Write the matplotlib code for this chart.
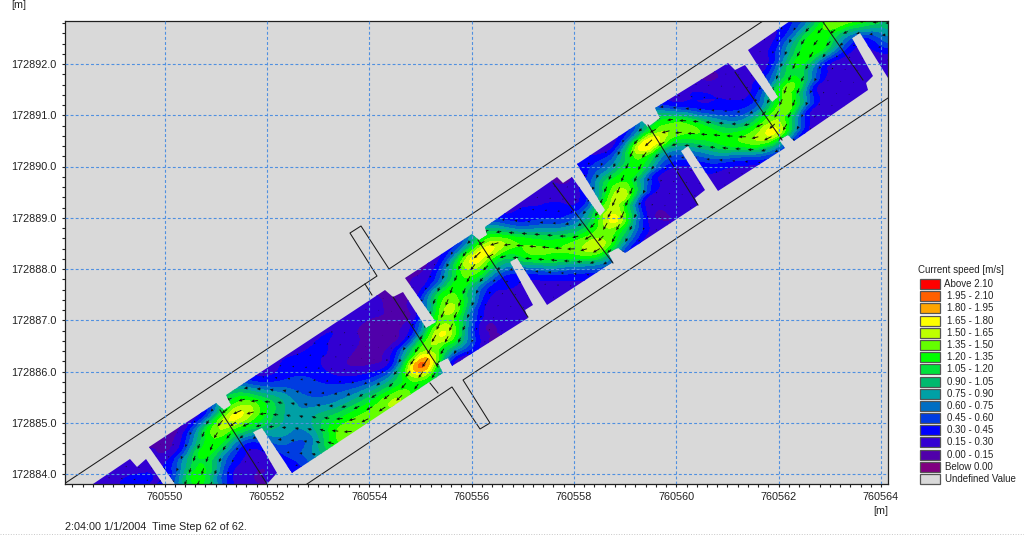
import numpy as np
import matplotlib
matplotlib.use("Agg")
import matplotlib.pyplot as plt
import matplotlib.tri as mtri
from matplotlib.path import Path
from matplotlib.patches import Rectangle
from matplotlib.ticker import MultipleLocator

plt.rcParams["font.family"] = ["Liberation Sans", "DejaVu Sans"]

# -----------------------------
# 1. LEGEND CLASSES
# -----------------------------
class_edges = [-1.0, 0.0, 0.15, 0.30, 0.45, 0.60, 0.75, 0.90, 1.05, 1.20,
               1.35, 1.50, 1.65, 1.80, 1.95, 2.10, 5.0]
class_colors = ["#800080", "#5000aa", "#3200d2", "#0000ff", "#003ce1", "#006ec3",
                "#00a0a5", "#00b96e", "#00e13c", "#00ff00", "#64ff00", "#beff00",
                "#ffff00", "#ffa500", "#ff5f00", "#ff0000"]
class_labels = ["Above 2.10", "1.95 - 2.10", "1.80 - 1.95", "1.65 - 1.80", "1.50 - 1.65",
                "1.35 - 1.50", "1.20 - 1.35", "1.05 - 1.20", "0.90 - 1.05", "0.75 - 0.90",
                "0.60 - 0.75", "0.45 - 0.60", "0.30 - 0.45", "0.15 - 0.30", "0.00 - 0.15",
                "Below 0.00", "Undefined Value"]
undefined_color = "#d9d9d9"

# -----------------------------
# 2. TICKS
# -----------------------------
x_ticks = [760550, 760552, 760554, 760556, 760558, 760560, 760562, 760564]
x_labels = ["760550", "760552", "760554", "760556", "760558", "760560", "760562", "760564"]
y_ticks = [172884, 172885, 172886, 172887, 172888, 172889, 172890, 172891, 172892]
y_labels = ["172884.0", "172885.0", "172886.0", "172887.0", "172888.0",
            "172889.0", "172890.0", "172891.0", "172892.0"]
x_base = 760550
y_base = 172884

# -----------------------------
# 3. GEOMETRY (metres from x_base / y_base)
# -----------------------------
flow_x = [-1.397, -0.674, -0.537, -0.361, -0.029, 0.205, -0.303, 1.006, 1.163, 1.299, 1.202,
          4.015, 4.308, 4.465, 4.660, 5.109, 5.305, 4.699, 6.008, 6.145, 6.301, 6.262,
          7.669, 7.786, 7.962, 8.509, 8.607, 8.060, 9.330, 9.447, 9.681, 9.584,
          11.010, 11.147, 11.342, 11.870, 11.987, 11.401, 12.222, 14.137, 14.137,
          13.590, 13.433, 13.843, 13.707, 13.746, 12.300, 12.183, 12.007, 12.124,
          10.815, 10.229, 10.092, 10.561, 10.365, 10.424, 8.998, 8.861, 8.665, 8.763,
          7.474, 6.887, 6.751, 7.200, 7.044, 7.102, 5.618, 5.539, 5.344, 5.442,
          2.491, 1.905, 1.729, 2.198, 2.003]
flow_y = [-0.195, 0.293, 0.137, 0.293, -0.195, -0.195, 0.527, 1.385, 1.249, 1.346, 1.541,
          3.395, 3.590, 3.454, 3.551, 2.849, 2.966, 3.824, 4.683, 4.566, 4.663, 4.820,
          5.795, 5.678, 5.795, 5.034, 5.151, 6.049, 6.888, 6.771, 6.946, 7.141,
          8.020, 7.883, 7.980, 7.259, 7.356, 8.273, 8.839, 8.839, 7.727,
          8.605, 8.507, 7.766, 7.629, 7.493, 6.498, 6.615, 6.517, 6.361,
          5.522, 6.400, 6.302, 5.541, 5.385, 5.249, 4.312, 4.410, 4.312, 4.137,
          3.298, 4.215, 4.137, 3.298, 3.200, 3.044, 2.107, 2.263, 2.166, 1.971,
          0.020, 0.898, 0.820, 0.020, -0.195]

upper_wall_x = [-1.964, 4.152, 3.624, 3.839, 4.387, 11.694]
upper_wall_y = [-0.195, 3.863, 4.702, 4.839, 4.000, 8.839]
lower_wall_x = [2.784, 5.617, 6.165, 6.360, 5.833, 14.137]
lower_wall_y = [-0.195, 1.698, 0.878, 0.995, 1.834, 7.337]
cross_x0 = [1.084, 4.465, 6.125, 7.591, 9.447, 11.147, 12.867, 3.917, 5.187]
cross_y0 = [1.249, 3.454, 4.566, 5.678, 6.810, 7.844, 8.820, 3.707, 1.776]
cross_x1 = [2.003, 5.344, 7.102, 8.763, 10.424, 12.066, 13.648, 4.054, 5.344]
cross_y1 = [-0.195, 2.088, 3.063, 4.117, 5.249, 6.517, 7.688, 3.493, 1.580]

# channel frame: s runs along the channel, n across it (towards the lower wall)
origin_x, origin_y = 1.202, 1.541
along = (0.837, 0.547)
across = (0.547, -0.837)
s_stations = np.arange(47) * 0.4 - 3.2
n_stations = [-0.2, 0.1, 0.4, 0.7, 1.0, 1.3, 1.6, 1.9, 2.2]

# -----------------------------
# 4. CURRENT SPEED [m/s], one column per s station
# -----------------------------
pool_start = [
    [.20, .20, .25, .25, .25, .25, .25, .25, .25],
    [.20, .25, .30, .30, .30, .30, .30, .30, .30],
    [.18, .25, .33, .33, .40, .40, .40, .40, .40],
    [.15, .20, .25, .30, .40, .60, .80, .80, .80],
]
pool_a = [
    [.10, .10, .25, .60, 1.00, 1.30, 1.30, 1.00, .80],
    [.10, .15, .50, 1.10, 1.25, 1.00, .70, .50, .40],
    [.15, .35, 1.10, 1.30, .80, .40, .25, .20, .20],
    [.40, .60, 1.50, 1.20, .50, .25, .15, .15, .15],
    [.70, 1.10, 1.65, 1.30, .60, .30, .20, .20, .20],
]
pool_b = [
    [.50, .80, 1.30, 1.25, .95, .70, .50, .40, .40],
    [.20, .30, .70, .95, .85, .75, .60, .75, .80],
    [.20, .30, .45, .60, .70, .90, 1.05, 1.20, 1.20],
    [.20, .30, .35, .45, .55, .80, 1.20, 1.45, 1.40],
    [.20, .30, .30, .25, .40, .70, 1.15, 1.45, 1.40],
    [.20, .30, .25, .15, .20, .55, 1.10, 1.45, 1.40],
    [.20, .25, .15, .10, .10, .40, 1.05, 1.50, 1.40],
    [.15, .20, .12, .10, .20, .70, 1.45, 1.25, .90],
    [.15, .14, .12, .12, .35, 1.25, 1.95, 1.20, .80],
    [.12, .12, .15, .30, .90, 1.55, 1.20, .40, .30],
]
pool_c = [
    [.15, .15, .40, 1.05, 1.45, 1.50, 1.05, .35, .20],
    [.20, .25, .70, 1.30, 1.35, .80, .35, .20, .18],
    [.30, .55, 1.35, 1.30, .70, .30, .20, .18, .18],
    [.40, .80, 1.70, 1.25, .50, .25, .20, .18, .18],
    [.50, 1.00, 1.60, 1.15, .60, .30, .20, .18, .18],
]
pool_d = [
    [.30, .45, 1.00, 1.35, 1.20, .55, .25, .18, .15],
    [.20, .30, .45, 1.00, 1.35, 1.15, .50, .25, .20],
    [.18, .22, .35, .55, 1.10, 1.40, 1.00, .40, .30],
    [.15, .18, .25, .40, .85, 1.40, 1.50, .70, .40],
    [.15, .15, .30, .50, 1.20, 1.50, 1.30, .60, .30],
]
pool_e = [
    [.30, .40, .70, 1.15, 1.55, 1.50, .90, .35, .20],
    [.20, .30, .80, 1.30, 1.35, .50, .28, .20, .18],
    [.30, .50, 1.30, 1.25, .55, .25, .20, .16, .16],
    [.50, .80, 1.80, .95, .35, .22, .18, .18, .18],
    [.60, 1.10, 1.50, 1.00, .50, .25, .20, .18, .15],
]
pool_f = [
    [.30, .50, 1.25, 1.35, .95, .55, .30, .18, .15],
    [.20, .30, .45, 1.00, 1.25, 1.10, .45, .20, .20],
    [.18, .20, .30, .45, .85, 1.35, 1.05, .35, .20],
    [.15, .18, .22, .30, .65, 1.35, 1.55, .60, .30],
    [.15, .18, .22, .45, .90, 1.45, 1.40, .50, .30],
]
pool_g = [
    [.20, .20, .30, .80, 1.40, 1.30, .55, .25, .20],
    [.30, .35, .75, 1.20, 1.10, .50, .25, .20, .20],
    [.40, .55, 1.15, 1.25, .50, .22, .18, .18, .18],
    [.50, .80, 1.30, 1.15, .40, .20, .18, .18, .18],
    [.70, 1.00, 1.50, .95, .35, .20, .20, .20, .20],
    [.80, 1.00, 1.30, 1.25, .60, .40, .20, .20, .20],
    [1.00, 1.00, 1.20, 1.15, 1.00, .80, .40, .30, .30],
    [1.00, 1.00, 1.00, 1.00, .90, .80, .40, .30, .30],
]
# centre of the main jet at each s station, for the arrow direction
jet_n = [.80, 1.00, 1.30, 1.50, 1.30, .95, .65, .42, .40, .55, .80, 1.40,
         1.75, 1.85, 1.85, 1.85, 1.70, 1.55, 1.35, 1.15, .85, .55, .42, .40,
         .65, 1.00, 1.30, 1.50, 1.35, 1.10, .85, .55, .40, .42, .65, 1.00,
         1.30, 1.50, 1.40, 1.10, .80, .60, .45, .40, .55, .80, 1.00]

speed = np.array(pool_start + pool_a + pool_b + pool_c + pool_d + pool_e + pool_f + pool_g).T

# -----------------------------
# 5. FIGURE
# -----------------------------
fig = plt.figure(figsize=(10.24, 5.35), dpi=100)
ax = fig.add_axes([64.5 / 1024, 1 - 484 / 535, (888 - 64.5) / 1024, (484 - 21) / 535])
ax.set_facecolor(undefined_color)
ax.set_xlim(x_base - 100 / 51.18, x_base + 723.5 / 51.18)
ax.set_ylim(y_base - 10 / 51.25, y_base + 453 / 51.25)

S, N = np.meshgrid(s_stations, n_stations)

def to_x(s, n):
    return x_base + origin_x + s * along[0] + n * across[0]

def to_y(s, n):
    return y_base + origin_y + s * along[1] + n * across[1]

X = to_x(S, N)
Y = to_y(S, N)

flow_path = Path(np.column_stack([np.array(flow_x) + x_base, np.array(flow_y) + y_base]), closed=False)

# triangles of the regular s-n lattice, refined so the bands come out smooth
rows, cols = S.shape
corner = np.arange(rows * cols).reshape(rows, cols)
triangles = np.vstack([
    np.column_stack([corner[:-1, :-1].ravel(), corner[:-1, 1:].ravel(), corner[1:, 1:].ravel()]),
    np.column_stack([corner[:-1, :-1].ravel(), corner[1:, 1:].ravel(), corner[1:, :-1].ravel()]),
])
tri = mtri.Triangulation(S.ravel(), N.ravel(), triangles)
tri_fine, speed_fine = mtri.UniformTriRefiner(tri).refine_field(speed.ravel(), subdiv=3)
fine = mtri.Triangulation(to_x(tri_fine.x, tri_fine.y), to_y(tri_fine.x, tri_fine.y), tri_fine.triangles)
cs = ax.tricontourf(fine, np.clip(speed_fine, 0.02, None), levels=class_edges, colors=class_colors, zorder=1)
cs.set_clip_path(flow_path, transform=ax.transData)

# arrows follow the jet and point downstream (towards the lower left)
slope = np.gradient(jet_n, s_stations)
ux = -(along[0] + slope * across[0])
uy = -(along[1] + slope * across[1])
norm = np.hypot(ux, uy)
U = speed * (ux / norm)
V = speed * (uy / norm)

def cell_mean(a):
    return (a[:-1, :-1] + a[1:, :-1] + a[:-1, 1:] + a[1:, 1:]) / 4

arrow_x = np.r_[X.ravel(), cell_mean(X).ravel()]
arrow_y = np.r_[Y.ravel(), cell_mean(Y).ravel()]
arrow_u = np.r_[U.ravel(), cell_mean(U).ravel()]
arrow_v = np.r_[V.ravel(), cell_mean(V).ravel()]
qv = ax.quiver(arrow_x, arrow_y, arrow_u, arrow_v, angles="xy", scale_units="xy", scale=9.5, pivot="mid",
               color="#101010", units="dots", width=0.9, headwidth=3.5, headlength=4, headaxislength=3.5,
               minlength=0.5, zorder=3)
qv.set_clip_path(flow_path, transform=ax.transData)

wall = dict(color="#1a1a1a", lw=0.75, zorder=2)
ax.plot(np.array(upper_wall_x) + x_base, np.array(upper_wall_y) + y_base, **wall)
ax.plot(np.array(lower_wall_x) + x_base, np.array(lower_wall_y) + y_base, **wall)
for x0, y0, x1, y1 in zip(cross_x0, cross_y0, cross_x1, cross_y1):
    ax.plot([x0 + x_base, x1 + x_base], [y0 + y_base, y1 + y_base], **wall)

ax.set_xticks(x_ticks, x_labels)
ax.set_yticks(y_ticks, y_labels)
ax.xaxis.set_minor_locator(MultipleLocator(0.2))
ax.yaxis.set_minor_locator(MultipleLocator(0.2))
ax.tick_params(which="both", length=2.4, width=0.8, colors="#222222", labelsize=7.8, pad=3.6)
ax.set_axisbelow(False)
ax.grid(True, which="major", color="#4f90e0", lw=0.8, ls=(0, (2.6, 2)))
for side in ax.spines.values():
    side.set_linewidth(0.9)
    side.set_color("#202020")

# overlay in screen pixels for the legend and the loose labels
over = fig.add_axes([0, 0, 1, 1], facecolor="none")
over.set_xlim(0, 1024)
over.set_ylim(535, 0)
over.axis("off")

over.text(11, 5, "[m]", fontsize=7.8, color="#222222", va="center")
over.text(873, 511, "[m]", fontsize=7.8, color="#222222", va="center")
over.text(65, 527, "2:04:00 1/1/2004  Time Step 62 of 62.", fontsize=7.8, color="#222222", va="center")
over.text(918, 270, "Current speed [m/s]", fontsize=7.0, color="#222222", va="center")
over.plot([0, 1024], [534, 534], color="#c8c8c8", lw=0.7, ls=":")

swatch_colors = class_colors[::-1] + [undefined_color]
for i, (col, lab) in enumerate(zip(swatch_colors, class_labels)):
    y = 284 + i * 12.19
    over.add_patch(Rectangle((919.5, y - 5), 20.5, 10, facecolor=col, edgecolor="#555555", lw=0.9))
    if lab == "Undefined Value":
        over.text(945, y, lab, fontsize=7.0, color="#222222", va="center")
    else:
        over.text(993, y, lab, fontsize=7.0, color="#222222", va="center", ha="right")

fig.savefig("out.png", dpi=100)
